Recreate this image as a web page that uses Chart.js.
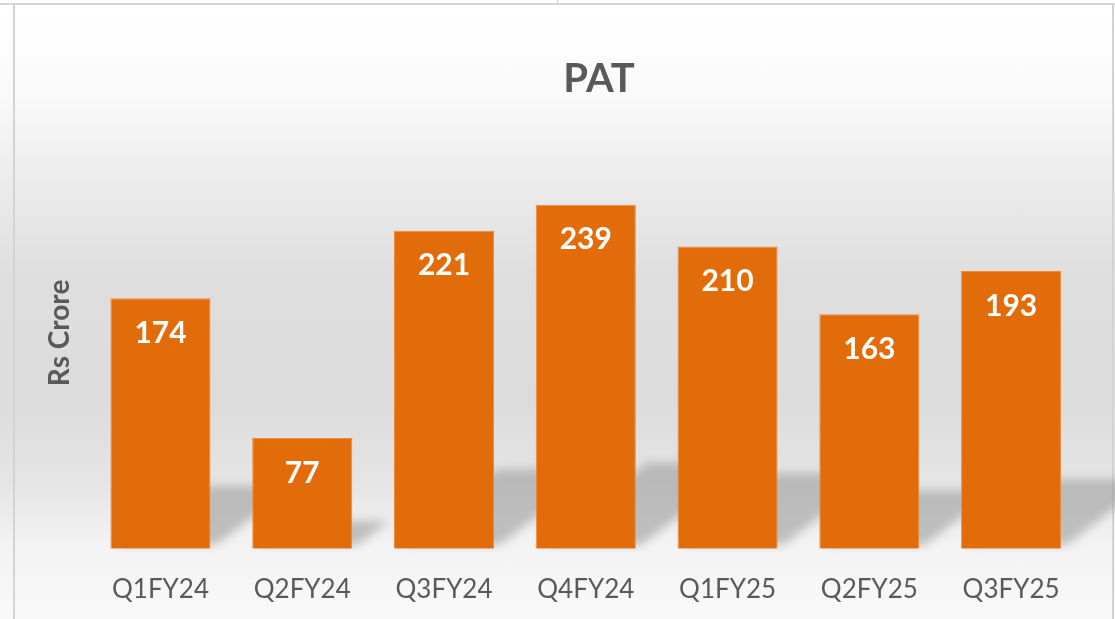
<!DOCTYPE html>
<html>
<head>
<meta charset="utf-8">
<title>PAT</title>
<script src="https://cdn.jsdelivr.net/npm/chart.js@4"></script>
<style>
  html, body { margin: 0; padding: 0; }
  body {
    width: 1115px; height: 619px; overflow: hidden; position: relative;
    background: linear-gradient(to bottom, #ffffff 0%, #fafafa 15%, #ebebeb 30%, #dedede 45%, #dcdcdc 65%, #e5e5e5 78%, #f3f3f3 88%, #f9f9f9 100%);
  }
  .topline { position: absolute; left: 0; top: 3px; width: 1115px; height: 2px; background: #d6d6d6; }
  .tick { position: absolute; left: 557px; top: 0; width: 1px; height: 4px; background: #cfcfcf; }
  .frame {
    position: absolute; left: 13px; top: 5px; width: 1097px; height: 620px;
    border-left: 2px solid #d3d3d3; border-right: 2px solid #d3d3d3;
  }
  #patChart { position: absolute; left: 0; top: 0; }
</style>
</head>
<body>
<div class="topline"></div>
<div class="tick"></div>
<div class="frame"></div>
<canvas id="patChart" width="1115" height="630"></canvas>
<script>
// dados do gráfico
const trimestres = ['Q1FY24', 'Q2FY24', 'Q3FY24', 'Q4FY24', 'Q1FY25', 'Q2FY25', 'Q3FY25'];
const valoresPAT = [174, 77, 221, 239, 210, 163, 193];
const tituloGrafico = 'PAT';
const tituloEixoY = 'Rs Crore';

const corBarra = '#E36C0A';
const corTexto = '#595959';

// sombra em perspectiva atrás das barras
const sombraPlugin = {
  id: 'sombra',
  beforeDatasetsDraw(chart) {
    const ctx = chart.ctx;
    const meta = chart.getDatasetMeta(0);
    ctx.save();
    ctx.filter = 'blur(5px)';
    ctx.fillStyle = 'rgba(150,150,150,0.55)';
    meta.data.forEach(bar => {
      const left = bar.x - bar.width / 2;
      const right = bar.x + bar.width / 2;
      const h = (bar.base - bar.y) * 0.25;
      const k = 1.3;
      ctx.beginPath();
      ctx.moveTo(left + 6, bar.base - 4);
      ctx.lineTo(right + 6, bar.base - 4);
      ctx.lineTo(right + k * h, bar.base - h);
      ctx.lineTo(left + k * h, bar.base - h);
      ctx.closePath();
      ctx.fill();
    });
    ctx.restore();
  }
};

// rótulos de valor dentro das barras + título
const rotulosPlugin = {
  id: 'rotulos',
  afterDatasetsDraw(chart) {
    const ctx = chart.ctx;
    const meta = chart.getDatasetMeta(0);
    ctx.save();
    ctx.fillStyle = '#ffffff';
    ctx.font = 'bold 30px Lato';
    ctx.textAlign = 'center';
    ctx.textBaseline = 'middle';
    meta.data.forEach((bar, i) => {
      ctx.fillText(String(valoresPAT[i]), bar.x, bar.y + 35);
    });
    // título
    ctx.fillStyle = corTexto;
    ctx.font = 'bold 40px Lato';
    ctx.fillText(tituloGrafico, 599, 79);
    ctx.restore();
  }
};

const ctx = document.getElementById('patChart').getContext('2d');
new Chart(ctx, {
  type: 'bar',
  data: {
    labels: trimestres,
    datasets: [{
      label: tituloGrafico,
      data: valoresPAT,
      backgroundColor: corBarra,
      borderColor: '#EE8A3E',
      borderWidth: 1,
      categoryPercentage: 1,
      barPercentage: 0.706
    }]
  },
  options: {
    responsive: false,
    animation: false,
    layout: {
      padding: { left: 43, right: 33, top: 117, bottom: 0 }
    },
    scales: {
      x: {
        grid: { display: false, drawTicks: false },
        border: { display: false },
        ticks: {
          color: corTexto,
          padding: 25,
          font: { family: 'Lato', size: 26 }
        }
      },
      y: {
        min: 0,
        max: 300,
        grid: { display: false, drawTicks: false },
        border: { display: false },
        ticks: { display: false },
        title: {
          display: true,
          text: tituloEixoY,
          color: corTexto,
          font: { family: 'Lato', size: 28, weight: 'bold' },
          padding: { top: 0, bottom: 13 }
        }
      }
    },
    plugins: {
      legend: { display: false },
      tooltip: { enabled: false }
    }
  },
  plugins: [sombraPlugin, rotulosPlugin]
});
</script>
</body>
</html>
